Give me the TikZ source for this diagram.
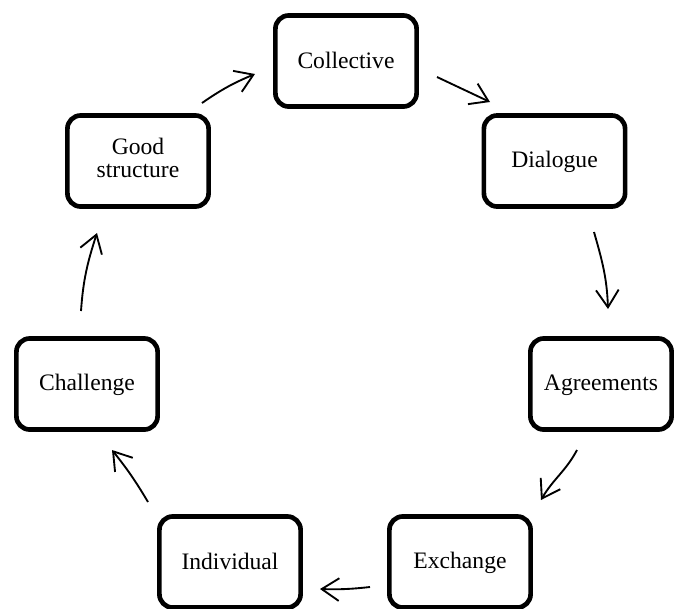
\documentclass[tikz,border=0pt]{standalone}
\usepackage{fontspec}
\setmainfont{Liberation Serif}
\usetikzlibrary{arrows.meta}
\newcommand\lowstrut{\rule[-2pt]{0pt}{15pt}}
\begin{document}
\begin{tikzpicture}[x=0.75pt,y=-0.75pt,
  stage/.style={draw=black, line width=3.5pt, rounded corners=10pt, fill=white,
    minimum width=105.9pt, minimum height=68.3pt, inner sep=0pt, align=center,
    font=\fontsize{17.7}{17.5}\selectfont},
  flow/.style={line width=1.4pt, -{Straight Barb[length=13pt,width=17pt,line width=1.4pt]}}]
\useasboundingbox (0,0) rectangle (682,608);
\node[stage] (col) at (346,61) {\lowstrut Collective};
\node[stage] (dia) at (554.5,161) {\lowstrut Dialogue};
\node[stage] (agr) at (601,384) {\lowstrut Agreements};
\node[stage] (exc) at (460,562) {\lowstrut Exchange};
\node[stage] (ind) at (230,562) {\lowstrut Individual};
\node[stage] (cha) at (87,384) {\lowstrut Challenge};
\node[stage] (gst) at (138,161) {\strut Good\\\strut structure};
% arrow end points
\coordinate (a1s) at (202,103); \coordinate (a1e) at (255,74);
\coordinate (a2s) at (437,77);  \coordinate (a2e) at (490,102);
\coordinate (a3s) at (594,232); \coordinate (a3e) at (608,309);
\coordinate (a4s) at (577,450); \coordinate (a4e) at (541,500);
\coordinate (a5s) at (370,587); \coordinate (a5e) at (320,589);
\coordinate (a6s) at (148,502); \coordinate (a6e) at (112,450);
\coordinate (a7s) at (81,311);  \coordinate (a7e) at (97,233);
\draw[flow] (a1s) to[bend left=6] (a1e);
\draw[flow] (a2s) -- (a2e);
\draw[flow] (a3s) to[out=-74,in=92] (a3e);
\draw[flow] (a4s) to[out=-118,in=60] (a4e);
\draw[flow] (a5s) to[bend left=4] (a5e);
\draw[flow] (a6s) to[bend right=4] (a6e);
\draw[flow] (a7s) to[out=86,in=-108] (a7e);
\end{tikzpicture}
\end{document}
